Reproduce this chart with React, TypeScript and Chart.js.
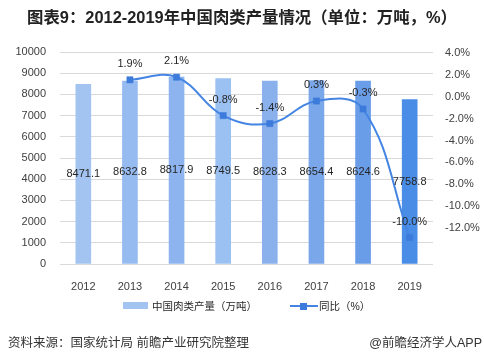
import React, { useEffect, useRef } from 'react';
import { Chart, registerables } from 'chart.js';

Chart.register(...registerables);

const years = ['2012', '2013', '2014', '2015', '2016', '2017', '2018', '2019'];
const production = [8471.1, 8632.8, 8817.9, 8749.5, 8628.3, 8654.4, 8624.6, 7758.8];
const yoy: (number | null)[] = [null, 1.9, 2.1, -0.8, -1.4, 0.3, -0.3, -10.0];
const barColors = ['#a3c3f1', '#96bbf0', '#8db4ee', '#9bc0f2', '#8ab1ec', '#7aa7ea', '#6a9de8', '#4a8de6'];
const pctTicks = [4, 2, 0, -2, -4, -6, -8, -10, -12];

const LATIN = '"Liberation Sans", Arial, sans-serif';
const MIXED = '"Liberation Sans", "Noto Sans CJK SC", sans-serif';

const labelPlugin = {
  id: 'valueLabels',
  afterDatasetsDraw(chart: any) {
    const ctx = chart.ctx;
    ctx.save();
    ctx.font = '11px ' + LATIN;
    ctx.fillStyle = '#262626';
    ctx.textAlign = 'center';
    ctx.textBaseline = 'middle';
    const barMeta = chart.getDatasetMeta(0);
    barMeta.data.forEach((el: any, i: number) => {
      const p = el.getProps(['x', 'y', 'base'], true);
      ctx.fillText(production[i].toFixed(1), p.x, (p.y + p.base) / 2);
    });
    const lineMeta = chart.getDatasetMeta(1);
    lineMeta.data.forEach((el: any, i: number) => {
      const v = yoy[i];
      if (v == null) return;
      ctx.fillText(v.toFixed(1) + '%', el.x, el.y - 16);
    });
    ctx.restore();
  },
};

export default function App() {
  const ref = useRef<HTMLCanvasElement>(null);
  useEffect(() => {
    if (!ref.current) return;
    const chart = new Chart(ref.current, {
      type: 'bar',
      data: {
        labels: years,
        datasets: [
          {
            type: 'bar',
            label: '中国肉类产量（万吨）',
            data: production,
            backgroundColor: barColors,
            barThickness: 15,
            yAxisID: 'y',
            order: 2,
          } as any,
          {
            type: 'line',
            label: '同比（%）',
            data: yoy,
            borderColor: '#4485e3',
            borderWidth: 2,
            backgroundColor: '#3c7bdb',
            pointStyle: 'rect',
            pointRadius: 4.4,
            pointBorderWidth: 0.5,
            pointBorderColor: '#3c7bdb',
            pointBackgroundColor: '#3c7bdb',
            tension: 0.4,
            yAxisID: 'y1',
            order: 1,
          } as any,
        ],
      },
      options: {
        responsive: false,
        animation: false,
        layout: { padding: { left: 0, right: 0, top: 52, bottom: 70 } },
        plugins: {
          legend: { display: false },
          tooltip: { enabled: false },
          title: { display: false },
        },
        scales: {
          x: {
            grid: { display: false },
            border: { display: false },
            ticks: { color: '#404040', font: { size: 11, family: LATIN }, padding: 8, maxRotation: 0 },
            afterFit: (s: any) => { s.height = 30; },
          },
          y: {
            position: 'left',
            min: 0,
            max: 10000,
            ticks: {
              stepSize: 1000,
              color: '#404040',
              font: { size: 11, family: LATIN },
              padding: 14,
              callback: (v: any) => String(v),
            },
            grid: { color: '#d9d9d9', drawTicks: false, lineWidth: 1 },
            border: { display: false },
            afterFit: (s: any) => { s.width = 60; },
          },
          y1: {
            display: false,
            min: -12,
            max: 4,
          },
          y2: {
            position: 'right',
            min: -15.3,
            max: 4.1,
            grid: { display: false, drawTicks: false },
            border: { display: false },
            ticks: {
              color: '#404040',
              font: { size: 11, family: LATIN },
              padding: 12,
              callback: (v: any) => Number(v).toFixed(1) + '%',
            },
            afterBuildTicks: (a: any) => { a.ticks = pctTicks.map((v) => ({ value: v })); },
            afterFit: (s: any) => { s.width = 51; },
          },
        },
      } as any,
      plugins: [labelPlugin],
    });
    return () => chart.destroy();
  }, []);

  return (
    <div style={{ position: 'absolute', left: 0, top: 0, width: 484, height: 364, background: '#fff', overflow: 'hidden', fontFamily: MIXED }}>
      <canvas ref={ref} width={484} height={364} style={{ position: 'absolute', left: 0, top: 0, width: 484, height: 364 }} />
      <div style={{ position: 'absolute', left: 0, top: 7, width: 484, textAlign: 'center', fontSize: 16.4, fontWeight: 'bold', lineHeight: '20px', color: '#222', whiteSpace: 'nowrap' }}>
        图表9：2012-2019年中国肉类产量情况（单位：万吨，%）
      </div>
      <div style={{ position: 'absolute', left: 123, top: 302, width: 25, height: 7, background: '#a3c3f1' }} />
      <div style={{ position: 'absolute', left: 152, top: 299, fontSize: 10.5, lineHeight: '14px', color: '#262626', whiteSpace: 'nowrap' }}>中国肉类产量（万吨）</div>
      <div style={{ position: 'absolute', left: 290, top: 305, width: 28, height: 2, background: '#4485e3' }} />
      <div style={{ position: 'absolute', left: 300, top: 302.5, width: 7, height: 7, background: '#3c7bdb' }} />
      <div style={{ position: 'absolute', left: 319, top: 299, fontSize: 10.5, lineHeight: '14px', color: '#262626', whiteSpace: 'nowrap' }}>同比（%）</div>
      <div style={{ position: 'absolute', left: 8, top: 335, fontSize: 12.5, lineHeight: '16px', color: '#333', whiteSpace: 'nowrap' }}>资料来源：国家统计局 前瞻产业研究院整理</div>
      <div style={{ position: 'absolute', right: 2, top: 335, fontSize: 12.5, lineHeight: '16px', color: '#333', whiteSpace: 'nowrap' }}>@前瞻经济学人APP</div>
    </div>
  );
}
